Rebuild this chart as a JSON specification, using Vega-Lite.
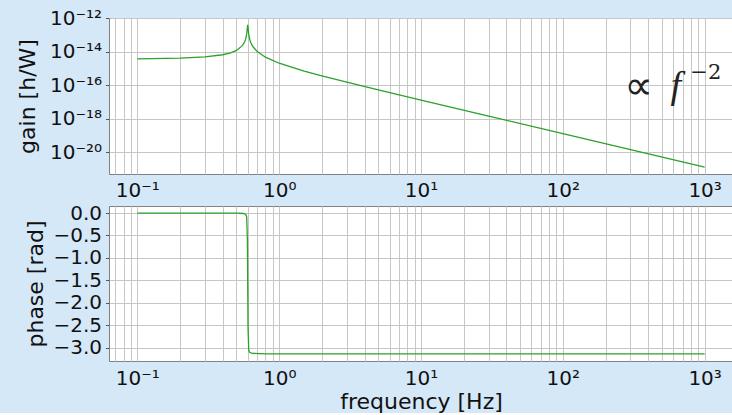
{
  "$schema": "https://vega.github.io/schema/vega-lite/v6.json",
  "padding": {"left": 15, "top": 7, "right": 0, "bottom": 0},
  "background": "#d5e8f8",
  "bounds": "flush",
  "spacing": 32,
  "config": {
    "font": "DejaVu Sans",
    "view": {"fill": "white", "stroke": "#808080", "strokeWidth": 1},
    "axis": {
      "labelFont": "DejaVu Sans",
      "labelFontSize": 20,
      "labelColor": "#111111",
      "titleFont": "DejaVu Sans",
      "titleFontSize": 22,
      "titleFontWeight": "normal",
      "titleColor": "#111111",
      "gridColor": "#c6c6c6",
      "gridOpacity": 1,
      "gridWidth": 1,
      "domain": false,
      "tickColor": "#555555",
      "labelFlush": false,
      "labelOverlap": false,
      "labelBound": false
    }
  },
  "datasets": {
    "gain": [
      {"freq": 0.1, "gain": 3.68e-15},
      {"freq": 0.2, "gain": 4.03e-15},
      {"freq": 0.3, "gain": 4.78e-15},
      {"freq": 0.4, "gain": 6.44e-15},
      {"freq": 0.45, "gain": 8.18e-15},
      {"freq": 0.5, "gain": 1.17e-14},
      {"freq": 0.55, "gain": 2.24e-14},
      {"freq": 0.57, "gain": 3.67e-14},
      {"freq": 0.58, "gain": 5.46e-14},
      {"freq": 0.59, "gain": 1.08e-13},
      {"freq": 0.595, "gain": 2.16e-13},
      {"freq": 0.6, "gain": 3.98e-13},
      {"freq": 0.605, "gain": 2.14e-13},
      {"freq": 0.61, "gain": 1.06e-13},
      {"freq": 0.62, "gain": 5.28e-14},
      {"freq": 0.63, "gain": 3.49e-14},
      {"freq": 0.65, "gain": 2.06e-14},
      {"freq": 0.7, "gain": 9.91e-15},
      {"freq": 0.8, "gain": 4.6e-15},
      {"freq": 1, "gain": 2.01e-15},
      {"freq": 1.5, "gain": 6.82e-16},
      {"freq": 2, "gain": 3.54e-16},
      {"freq": 3, "gain": 1.49e-16},
      {"freq": 5, "gain": 5.22e-17},
      {"freq": 10, "gain": 1.29e-17},
      {"freq": 30, "gain": 1.43e-18},
      {"freq": 100, "gain": 1.29e-19},
      {"freq": 1000, "gain": 1.29e-21}
    ],
    "phase": [
      {"freq": 0.1, "phase": 0},
      {"freq": 0.5, "phase": -0.002},
      {"freq": 0.56, "phase": -0.01},
      {"freq": 0.58, "phase": -0.03},
      {"freq": 0.59, "phase": -0.08},
      {"freq": 0.597, "phase": -0.6},
      {"freq": 0.6, "phase": -1.57},
      {"freq": 0.603, "phase": -2.54},
      {"freq": 0.61, "phase": -3.06},
      {"freq": 0.62, "phase": -3.11},
      {"freq": 0.65, "phase": -3.13},
      {"freq": 0.8, "phase": -3.138},
      {"freq": 1000, "phase": -3.1416}
    ],
    "annoProp": [{"freq": 343, "gain": 7.69e-17, "label": "∝"}],
    "annoF": [{"freq": 627, "gain": 7.69e-17, "label": "f"}],
    "annoExp": [{"freq": 1019, "gain": 5.25e-16, "label": "−2"}]
  },
  "vconcat": [
    {
      "width": 624,
      "height": 156,
      "encoding": {
        "x": {
          "field": "freq",
          "type": "quantitative",
          "scale": {"type": "log", "domain": [0.0631, 1585], "nice": false},
          "axis": {
            "title": null,
            "values": [0.07, 0.08, 0.09, 0.1, 0.2, 0.3, 0.4, 0.5, 0.6, 0.7, 0.8, 0.9, 1, 2, 3, 4, 5, 6, 7, 8, 9, 10, 20, 30, 40, 50, 60, 70, 80, 90, 100, 200, 300, 400, 500, 600, 700, 800, 900, 1000],
            "labelExpr": "datum.value == 0.1 ? '10⁻¹' : datum.value == 1 ? '10⁰' : datum.value == 10 ? '10¹' : datum.value == 100 ? '10²' : datum.value == 1000 ? '10³' : ''",
            "ticks": false,
            "tickSize": 0,
            "labelPadding": 6
          }
        },
        "y": {
          "field": "gain",
          "type": "quantitative",
          "scale": {"type": "log", "domain": [5.01e-22, 1e-12], "nice": false},
          "axis": {
            "title": "gain [h/W]",
            "values": [1e-20, 1e-18, 1e-16, 1e-14, 1e-12],
            "labelExpr": "datum.value == 1e-20 ? '10⁻²⁰' : datum.value == 1e-18 ? '10⁻¹⁸' : datum.value == 1e-16 ? '10⁻¹⁶' : datum.value == 1e-14 ? '10⁻¹⁴' : '10⁻¹²'",
            "tickSize": 3.5,
            "labelPadding": 4,
            "titleX": -75,
            "titleY": 78,
            "titleAngle": 270,
            "titleBaseline": "alphabetic",
            "titleAlign": "center"
          }
        }
      },
      "layer": [
        {
          "data": {"name": "gain"},
          "mark": {"type": "line", "color": "#2ca02c", "strokeWidth": 1.3, "clip": true}
        },
        {
          "data": {"name": "annoProp"},
          "mark": {"type": "text", "font": "DejaVu Sans", "fontSize": 40, "color": "#222222", "align": "center", "baseline": "middle"},
          "encoding": {"text": {"field": "label"}}
        },
        {
          "data": {"name": "annoF"},
          "mark": {"type": "text", "font": "Liberation Serif", "fontStyle": "italic", "fontSize": 38, "color": "#222222", "align": "center", "baseline": "middle"},
          "encoding": {"text": {"field": "label"}}
        },
        {
          "data": {"name": "annoExp"},
          "mark": {"type": "text", "font": "DejaVu Serif", "fontSize": 21, "color": "#222222", "align": "center", "baseline": "middle"},
          "encoding": {"text": {"field": "label"}}
        }
      ]
    },
    {
      "width": 624,
      "height": 155,
      "data": {"name": "phase"},
      "mark": {"type": "line", "color": "#2ca02c", "strokeWidth": 1.3, "clip": true},
      "encoding": {
        "x": {
          "field": "freq",
          "type": "quantitative",
          "scale": {"type": "log", "domain": [0.0631, 1585], "nice": false},
          "axis": {
            "title": "frequency [Hz]",
            "values": [0.07, 0.08, 0.09, 0.1, 0.2, 0.3, 0.4, 0.5, 0.6, 0.7, 0.8, 0.9, 1, 2, 3, 4, 5, 6, 7, 8, 9, 10, 20, 30, 40, 50, 60, 70, 80, 90, 100, 200, 300, 400, 500, 600, 700, 800, 900, 1000],
            "labelExpr": "datum.value == 0.1 ? '10⁻¹' : datum.value == 1 ? '10⁰' : datum.value == 10 ? '10¹' : datum.value == 100 ? '10²' : datum.value == 1000 ? '10³' : ''",
            "ticks": false,
            "tickSize": 0,
            "labelPadding": 7,
            "titlePadding": 3
          }
        },
        "y": {
          "field": "phase",
          "type": "quantitative",
          "scale": {"domain": [-3.299, 0.157], "nice": false, "zero": false},
          "axis": {
            "title": "phase [rad]",
            "values": [0, -0.5, -1, -1.5, -2, -2.5, -3],
            "format": ".1f",
            "tickSize": 3.5,
            "labelPadding": 4,
            "titleX": -67,
            "titleY": 77.5,
            "titleAngle": 270,
            "titleBaseline": "alphabetic",
            "titleAlign": "center"
          }
        }
      }
    }
  ]
}
